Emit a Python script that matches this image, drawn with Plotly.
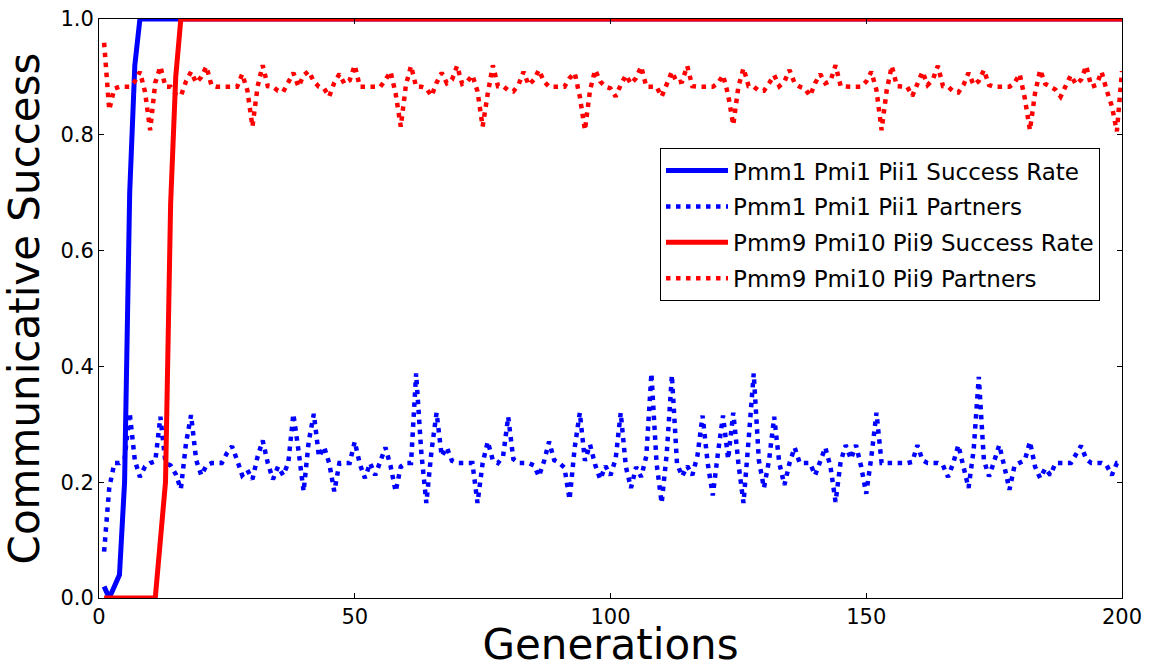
import plotly.graph_objects as go

generations = list(range(1, 201))

pmm1_success = [0.02, 0.0, 0.02, 0.04, 0.2, 0.7, 0.92] + [1.0] * 193

pmm1_partners = [
    0.08, 0.19, 0.233, 0.233, 0.24, 0.32, 0.238, 0.209, 0.227, 0.233,
    0.236, 0.313, 0.233, 0.229, 0.214, 0.188, 0.267, 0.316, 0.238, 0.212,
    0.229, 0.233, 0.233, 0.233, 0.25, 0.262, 0.238, 0.212, 0.221, 0.205,
    0.244, 0.272, 0.233, 0.205, 0.227, 0.212, 0.233, 0.318, 0.255, 0.184,
    0.27, 0.318, 0.244, 0.261, 0.233, 0.184, 0.233, 0.233, 0.233, 0.27,
    0.231, 0.207, 0.233, 0.212, 0.236, 0.26, 0.228, 0.184, 0.227, 0.233,
    0.233, 0.388, 0.252, 0.164, 0.254, 0.32, 0.245, 0.26, 0.237, 0.233,
    0.233, 0.233, 0.233, 0.164, 0.233, 0.27, 0.238, 0.233, 0.245, 0.313,
    0.24, 0.233, 0.233, 0.233, 0.229, 0.21, 0.236, 0.27, 0.238, 0.233,
    0.225, 0.17, 0.26, 0.32, 0.237, 0.265, 0.23, 0.205, 0.228, 0.212,
    0.24, 0.32, 0.227, 0.19, 0.226, 0.209, 0.245, 0.388, 0.233, 0.164,
    0.25, 0.385, 0.232, 0.21, 0.228, 0.212, 0.246, 0.315, 0.233, 0.177,
    0.25, 0.315, 0.24, 0.32, 0.233, 0.164, 0.273, 0.388, 0.238, 0.19,
    0.238, 0.313, 0.233, 0.195, 0.233, 0.26, 0.233, 0.233, 0.233, 0.212,
    0.236, 0.26, 0.227, 0.166, 0.236, 0.264, 0.24, 0.264, 0.227, 0.18,
    0.244, 0.32, 0.233, 0.233, 0.233, 0.233, 0.233, 0.233, 0.235, 0.264,
    0.238, 0.233, 0.233, 0.233, 0.229, 0.209, 0.233, 0.264, 0.227, 0.19,
    0.256, 0.382, 0.238, 0.21, 0.236, 0.264, 0.227, 0.187, 0.229, 0.233,
    0.238, 0.27, 0.227, 0.207, 0.224, 0.212, 0.233, 0.233, 0.233, 0.233,
    0.248, 0.263, 0.24, 0.233, 0.233, 0.233, 0.229, 0.212, 0.233, 0.233,
]

pmm9_success = [0.0] * 11 + [0.1, 0.2, 0.68, 0.9] + [1.0] * 185

pmm9_partners = [
    0.959, 0.843, 0.88, 0.883, 0.883, 0.883, 0.892, 0.909, 0.874, 0.808,
    0.89, 0.918, 0.883, 0.883, 0.87, 0.867, 0.892, 0.909, 0.89, 0.9,
    0.918, 0.885, 0.883, 0.883, 0.883, 0.883, 0.883, 0.905, 0.877, 0.814,
    0.883, 0.92, 0.884, 0.883, 0.876, 0.874, 0.892, 0.907, 0.883, 0.903,
    0.91, 0.892, 0.883, 0.88, 0.866, 0.89, 0.905, 0.888, 0.894, 0.92,
    0.883, 0.883, 0.883, 0.883, 0.883, 0.895, 0.909, 0.871, 0.814, 0.886,
    0.919, 0.883, 0.883, 0.88, 0.867, 0.89, 0.907, 0.889, 0.895, 0.919,
    0.888, 0.892, 0.903, 0.875, 0.814, 0.871, 0.92, 0.884, 0.884, 0.877,
    0.875, 0.886, 0.909, 0.886, 0.895, 0.912, 0.892, 0.883, 0.883, 0.883,
    0.883, 0.898, 0.907, 0.866, 0.808, 0.877, 0.912, 0.892, 0.883, 0.88,
    0.866, 0.886, 0.903, 0.888, 0.898, 0.918, 0.883, 0.883, 0.883, 0.866,
    0.89, 0.909, 0.89, 0.892, 0.919, 0.884, 0.883, 0.883, 0.883, 0.883,
    0.889, 0.903, 0.869, 0.817, 0.883, 0.915, 0.884, 0.883, 0.876, 0.876,
    0.889, 0.903, 0.884, 0.892, 0.912, 0.889, 0.883, 0.88, 0.867, 0.889,
    0.905, 0.889, 0.893, 0.92, 0.884, 0.883, 0.883, 0.883, 0.883, 0.892,
    0.909, 0.877, 0.808, 0.877, 0.919, 0.884, 0.883, 0.883, 0.867, 0.886,
    0.909, 0.886, 0.895, 0.919, 0.884, 0.883, 0.875, 0.873, 0.886, 0.907,
    0.886, 0.893, 0.912, 0.886, 0.883, 0.883, 0.883, 0.883, 0.89, 0.905,
    0.863, 0.808, 0.872, 0.912, 0.888, 0.883, 0.878, 0.866, 0.886, 0.903,
    0.887, 0.895, 0.919, 0.883, 0.886, 0.909, 0.877, 0.85, 0.806, 0.91,
]

series_names = [
    "Pmm1 Pmi1 Pii1 Success Rate",
    "Pmm1 Pmi1 Pii1 Partners",
    "Pmm9 Pmi10 Pii9 Success Rate",
    "Pmm9 Pmi10 Pii9 Partners",
]

x_ticks = [0, 50, 100, 150, 200]
y_ticks = [0.0, 0.2, 0.4, 0.6, 0.8, 1.0]

FONT = "DejaVu Sans"
BLUE = "#0000ff"
RED = "#ff0000"
DOT = "4.5px,5.5px"

fig = go.Figure()
fig.add_trace(go.Scatter(x=generations, y=pmm1_success, mode="lines", name=series_names[0],
                         legendgroup="a", line=dict(color=BLUE, width=5)))
fig.add_trace(go.Scatter(x=generations, y=pmm1_partners, mode="lines", name=series_names[1],
                         legendgroup="b", line=dict(color=BLUE, width=4.5, dash=DOT)))
fig.add_trace(go.Scatter(x=generations, y=pmm9_success, mode="lines", name=series_names[2],
                         legendgroup="c", line=dict(color=RED, width=5)))
fig.add_trace(go.Scatter(x=generations, y=pmm9_partners, mode="lines", name=series_names[3],
                         legendgroup="d", line=dict(color=RED, width=4.5, dash=DOT)))

axis_common = dict(
    showline=True, linecolor="black", linewidth=1, mirror="allticks",
    ticks="inside", ticklen=5, tickwidth=1, tickcolor="black",
    showgrid=False, zeroline=False, automargin=False,
    tickfont=dict(family=FONT, size=21, color="black"),
)

fig.update_layout(
    width=1150, height=669,
    margin=dict(l=99, r=28, t=19, b=71),
    paper_bgcolor="white", plot_bgcolor="white",
    font=dict(family=FONT, color="black"),
    xaxis=dict(range=[0, 200], tickvals=x_ticks, ticktext=[str(v) for v in x_ticks],
               title=dict(text="Generations", font=dict(family=FONT, size=42, color="black"), standoff=6),
               **axis_common),
    yaxis=dict(range=[0, 1], tickvals=y_ticks, ticktext=[f"{v:.1f}" for v in y_ticks],
               title=dict(text="Communicative Success", font=dict(family=FONT, size=42, color="black"), standoff=8),
               **axis_common),
    legend=dict(x=0.9785, xanchor="right", y=0.777, yanchor="top",
                bgcolor="white", bordercolor="black", borderwidth=1,
                font=dict(family=FONT, size=23, color="black"),
                tracegroupgap=3, itemwidth=62),
    showlegend=True,
)

fig.write_html("out.html")
